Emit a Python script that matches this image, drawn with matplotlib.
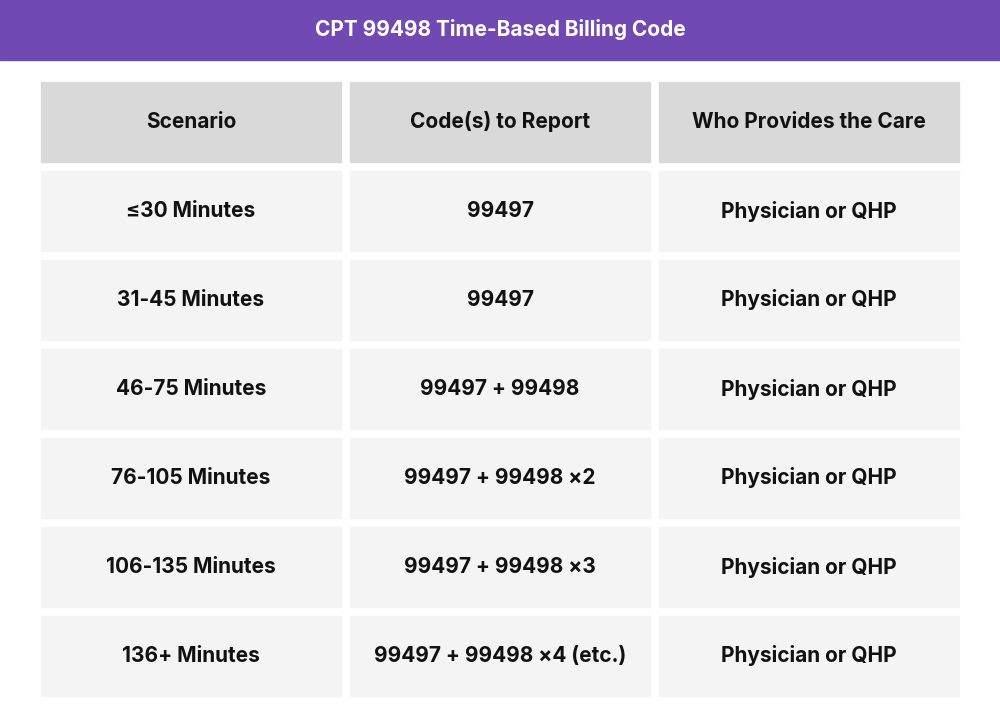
import matplotlib.pyplot as plt
from matplotlib.patches import Rectangle

title = "CPT 99498 Time-Based Billing Code"
headers = ["Scenario", "Code(s) to Report", "Who Provides the Care"]
scenarios = ["≤30 Minutes", "31-45 Minutes", "46-75 Minutes", "76-105 Minutes",
             "106-135 Minutes", "136+ Minutes"]
codes = ["99497", "99497", "99497 + 99498", "99497 + 99498 ×2",
         "99497 + 99498 ×3", "99497 + 99498 ×4 (etc.)"]
providers = ["Physician or QHP"] * 6

plt.rcParams['font.family'] = ['Inter', 'DejaVu Sans']

fig = plt.figure(figsize=(10, 7.26), dpi=100)
ax = fig.add_axes([0, 0, 1, 1])
ax.set_xlim(0, 1000)
ax.set_ylim(726, 0)
ax.axis("off")

# title bar
ax.add_patch(Rectangle((0, 0), 1000, 60, color="#7049B3"))
ax.text(500, 30, title, color="white", fontsize=15, fontweight="bold",
        ha="center", va="center")

col_x = [41, 350, 659]
col_w = 300
row_h = 80
row_step = 89
top = 82

rows = [headers] + [list(r) for r in zip(scenarios, codes, providers)]
for i, row in enumerate(rows):
    y = top + i * row_step
    face = "#D9D9D9" if i == 0 else "#F4F4F4"
    for x, txt in zip(col_x, row):
        ax.add_patch(Rectangle((x, y), col_w, row_h, color=face))
        ax.text(x + col_w / 2, y + row_h / 2, txt, fontsize=15,
                fontweight="bold", ha="center", va="center", color="#111111")

fig.savefig("out.png", dpi=100)
